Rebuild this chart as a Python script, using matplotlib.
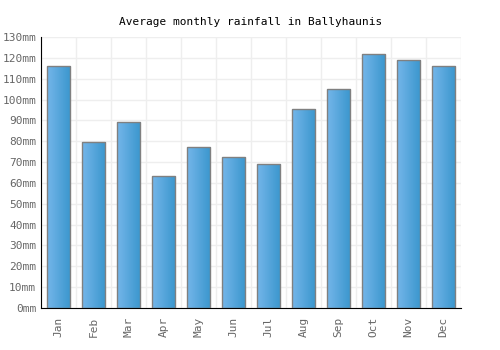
import numpy as np
import matplotlib
matplotlib.use("Agg")
import matplotlib.pyplot as plt
from matplotlib.colors import LinearSegmentedColormap

months = ["Jan", "Feb", "Mar", "Apr", "May", "Jun",
          "Jul", "Aug", "Sep", "Oct", "Nov", "Dec"]
rainfall = [116, 79.6, 89.2, 63.3, 77.2, 72.4, 69.1, 95.4, 105, 121.8, 118.9, 116]
yticks = list(range(0, 140, 10))
ytick_labels = [f"{v}mm" for v in yticks]

plt.rcParams['font.family'] = ['DejaVu Sans Mono']

fig = plt.figure(figsize=(5, 3.5), dpi=100)
ax = fig.add_axes([0.082, 0.12, 0.84, 0.774])

x = np.arange(len(months))
bars = ax.bar(x, rainfall, width=0.68, color='none', edgecolor='#808080',
              linewidth=1, zorder=3)

# horizontal gradient fill for each bar
cmap = LinearSegmentedColormap.from_list("bar", ["#74b6ea", "#3a96cd"])
grad = np.linspace(0, 1, 64).reshape(1, -1)
for b in bars:
    bx, bw, bh = b.get_x(), b.get_width(), b.get_height()
    ax.imshow(grad, extent=[bx, bx + bw, 0, bh], cmap=cmap, aspect='auto',
              zorder=2, interpolation='bilinear')

ax.set_xlim(-0.5, len(months) - 0.5)
ax.set_ylim(0, 130)

ax.set_yticks(yticks)
ax.set_yticklabels(ytick_labels)
ax.set_xticks(x)
ax.set_xticklabels(months, rotation=90)
ax.set_xticks(np.arange(-0.5, len(months)), minor=True)
ax.tick_params(axis='both', which='both', length=0, labelsize=8, colors='#666666')
ax.tick_params(axis='x', pad=6)

ax.grid(axis='y', color='#eeeeee', linewidth=1, zorder=0)
ax.grid(axis='x', which='minor', color='#eeeeee', linewidth=1, zorder=0)
ax.set_axisbelow(True)

for s in ['top', 'right']:
    ax.spines[s].set_visible(False)
ax.spines['left'].set_color('black')
ax.spines['bottom'].set_color('black')

ax.set_title("Average monthly rainfall in Ballyhaunis", fontsize=8, pad=9)

fig.savefig("out.png", dpi=100)
